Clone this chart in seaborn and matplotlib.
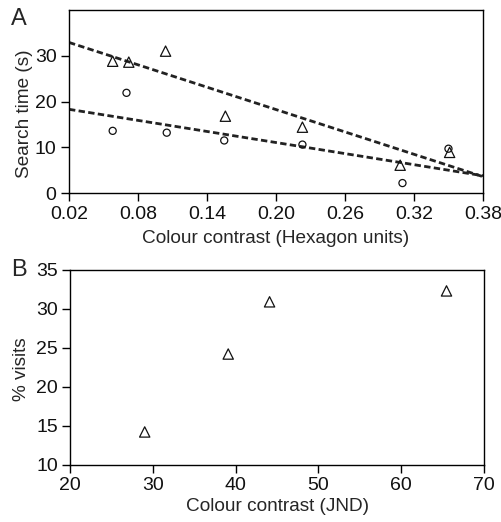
import matplotlib
matplotlib.use("Agg")
import matplotlib.pyplot as plt
import seaborn as sns
import pandas as pd

# ---- data ----
# Panel A: search time vs colour contrast (hexagon units)
hex_tri_x = [0.058, 0.072, 0.104, 0.156, 0.223, 0.308, 0.351]
hex_tri_y = [28.8, 28.6, 31.0, 16.8, 14.4, 6.1, 8.9]
hex_circ_x = [0.058, 0.070, 0.105, 0.155, 0.223, 0.310, 0.350]
hex_circ_y = [13.6, 21.9, 13.2, 11.5, 10.6, 2.2, 9.7]
fit_x = [0.02, 0.38]
fit_tri_y = [32.9, 3.6]
fit_circ_y = [18.3, 3.8]
a_xticks = [0.02, 0.08, 0.14, 0.20, 0.26, 0.32, 0.38]
a_yticks = [0, 10, 20, 30]

# Panel B: % visits vs colour contrast (JND)
jnd_x = [29.0, 39.1, 44.1, 65.5]
visits_y = [14.2, 24.2, 30.9, 32.3]
b_xticks = [20, 30, 40, 50, 60, 70]
b_yticks = [10, 15, 20, 25, 30, 35]

sns.set_theme(style="ticks")
plt.rcParams['font.family'] = ['Liberation Sans', 'DejaVu Sans']
plt.rcParams['axes.linewidth'] = 1.0
plt.rcParams['xtick.major.width'] = 1.0
plt.rcParams['ytick.major.width'] = 1.0

fig = plt.figure(figsize=(5.01, 5.22), dpi=100)
axA = fig.add_axes([0.1377, 0.630, 0.8263, 0.351])
axB = fig.add_axes([0.1403, 0.1098, 0.8252, 0.3732])

FS_T = 14
FS_L = 13.7

def open_markers(ax, x, y, marker, size):
    sns.scatterplot(x=x, y=y, ax=ax, marker=marker, s=size, color="black",
                    linewidth=0.9, zorder=3)
    coll = ax.collections[-1]
    coll.set_facecolor("none")
    coll.set_edgecolor("#111111")

# Panel A
sns.lineplot(x=fit_x, y=fit_tri_y, ax=axA, color="#222222", lw=2.0,
             linestyle=(0, (2.3, 1.2)))
sns.lineplot(x=fit_x, y=fit_circ_y, ax=axA, color="#222222", lw=2.0,
             linestyle=(0, (2.3, 1.2)))
open_markers(axA, hex_tri_x, hex_tri_y, "^", 55)
open_markers(axA, hex_circ_x, hex_circ_y, "o", 26)
axA.set_xlim(0.02, 0.38)
axA.set_ylim(0, 40)
axA.set_xticks(a_xticks)
axA.set_xticklabels([f"{v:.2f}" for v in a_xticks])
axA.set_yticks(a_yticks)
axA.set_xlabel("Colour contrast (Hexagon units)", fontsize=FS_L, labelpad=5)
axA.set_ylabel("Search time (s)", fontsize=FS_L)
axA.yaxis.set_label_coords(-0.087, 0.433)
axA.tick_params(labelsize=FS_T, length=6, direction="out", color="black",
                labelcolor="#111111", pad=3)

# Panel B
open_markers(axB, jnd_x, visits_y, "^", 55)
axB.set_xlim(20, 70)
axB.set_ylim(10, 35)
axB.set_xticks(b_xticks)
axB.set_yticks(b_yticks)
axB.set_xlabel("Colour contrast (JND)", fontsize=FS_L, labelpad=3)
axB.set_ylabel("% visits", fontsize=FS_L)
axB.yaxis.set_label_coords(-0.098, 0.49)
axB.tick_params(labelsize=FS_T, length=6, direction="out", color="black",
                labelcolor="#111111", pad=3)

for ax in (axA, axB):
    for sp in ax.spines.values():
        sp.set_visible(True)
        sp.set_color("black")

fig.text(0.022, 0.964, "A", fontsize=17, ha="left", va="center")
fig.text(0.022, 0.482, "B", fontsize=17, ha="left", va="center")

fig.savefig("out.png", dpi=100)
